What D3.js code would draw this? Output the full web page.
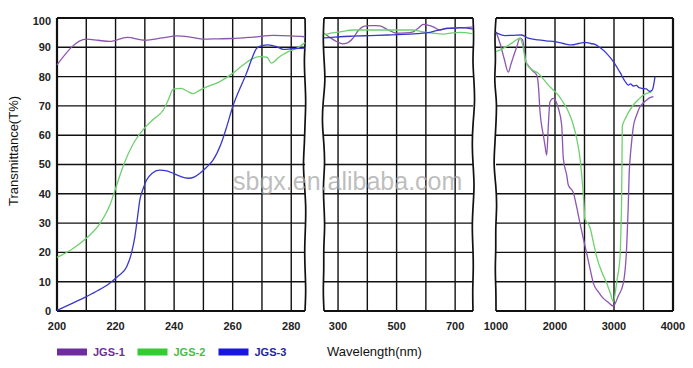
<!DOCTYPE html>
<html><head><meta charset="utf-8">
<script src="https://cdn.jsdelivr.net/npm/d3@7"></script>
<style>body{margin:0;background:#fff}svg{display:block}</style>
</head><body>
<svg id="c" width="693" height="368"></svg>
<script>
// ---------- data ----------
const seriesNames = ["JGS-1", "JGS-2", "JGS-3"];
const yTicks = [0, 10, 20, 30, 40, 50, 60, 70, 80, 90, 100];
const uvGrid = [210, 220, 230, 240, 250, 260, 270, 280];
const uvLabels = [200, 220, 240, 260, 280];
const visGrid = [300, 400, 500, 600, 700];
const visLabels = [300, 500, 700];
const irGrid = [1500, 2000, 2500, 3000, 3500];
const irLabels = [1000, 2000, 3000, 4000];

const jgs1UV = [[200,84],[210,92.8],[214,92.4],[218,92],[224,93.4],[230,92.4],[236,93.2],[241,93.9],[246,93.4],[250,92.8],[255,92.9],[260,93.0],[267,93.5],[274,94.1],[280,93.9],[284.7,93.6]];
const jgs2UV = [[200,18.3],[205,21],[210,24.8],[214.7,29.9],[218,36],[220.4,43],[222.8,50],[226,57],[229.5,62],[233,65.5],[236.3,68.6],[238,72],[239.7,75.7],[242.5,76],[244.5,75],[246.5,74.2],[248.5,75.2],[250,76],[255.6,78.3],[260,81.1],[263,83.5],[266,85.7],[269.3,86.8],[271.7,86.6],[273.2,84.6],[276,86.8],[279,88.5],[282,89.7],[284.7,91.6]];
const jgs3UV = [[200,0.2],[205,2.5],[210,4.9],[214,7],[218,9.5],[221,12],[223.8,15.1],[225.5,20],[226.6,25.4],[227.5,32],[228.3,37.9],[229.5,42],[230.6,44.7],[232.5,47],[235,48.1],[237.5,47.8],[239.7,47],[242,46],[244.8,45.3],[247,45.8],[248.8,47],[251,49],[253.3,51.5],[256,57],[258,63],[260,69.7],[262.5,76],[264.7,81.1],[266.5,86],[268.2,89.7],[270,90.6],[272.1,90.8],[275,90.2],[277.3,89.3],[280,89.5],[284.7,89.7]];

const jgs1VIS = [[252,94.8],[270,93.5],[296,91.9],[315,91.2],[330,91.4],[350,93],[370,95.8],[390,97.2],[409,97.4],[430,97.4],[443,97.3],[470,96],[500,94.8],[530,94.9],[557,95.3],[575,96.6],[591,97.8],[610,97.5],[625,97],[648,95.9],[671,96.5],[716,96.6],[761,97]];
const jgs2VIS = [[252,94.2],[280,94.9],[307,95.3],[352,95.9],[400,95.9],[466,95.9],[520,95.9],[557,95.9],[590,95.3],[625,94.8],[659,94.5],[690,94.9],[716,95.1],[761,94.6]];
const jgs3VIS = [[252,93.2],[270,93.3],[307,93.6],[350,93.8],[409,94],[470,94.2],[523,94.4],[570,94.7],[614,95.1],[640,95.8],[659,96.2],[690,96.5],[716,96.7],[761,96.2]];

const jgs1IR = [[1000,95.3],[1068,91.4],[1140,86],[1209,81.5],[1250,84],[1294,86.8],[1350,90],[1407,93.1],[1450,92.5],[1485,88],[1503,85.1],[1537,84],[1620,82],[1690,80.5],[1718,77.1],[1746,68],[1802,60],[1830,56.5],[1859,53.2],[1887,63.5],[1915,71.4],[1971,72.6],[2056,69.2],[2113,63.5],[2141,52.1],[2198,46.4],[2226,43],[2310,40.5],[2367,35.5],[2424,29.9],[2480,24.7],[2537,19.7],[2593,14.5],[2650,9.5],[2735,6.5],[2819,4.3],[2900,3],[2989,1.7],[3070,5],[3158,9.5],[3215,21.9],[3240,35],[3260,48.1],[3271,51.5],[3300,58],[3328,62.9],[3385,67],[3441,69.7],[3497,71],[3554,72],[3610,72.8],[3667,73.2]];
const jgs2IR = [[1000,88.5],[1090,89.3],[1181,90.3],[1280,91.6],[1407,93.1],[1435,92],[1463,89.7],[1490,86.5],[1520,84.5],[1600,82.5],[1718,81.1],[1800,79.2],[1887,77.1],[1971,75.4],[2056,73.7],[2130,71.5],[2198,69.2],[2260,66.5],[2310,63.5],[2367,58.9],[2424,52.1],[2463,44.1],[2490,37],[2505,31.5],[2540,30.3],[2593,28.5],[2650,23.5],[2706,18.5],[2790,13.5],[2876,9.5],[2940,6],[2989,3.2],[3050,10.5],[3102,18.5],[3118,28],[3128,37],[3134,48],[3140,62.9],[3200,66],[3260,68.3],[3328,70.3],[3420,72.3],[3497,73.7],[3638,74.8]];
const jgs3IR = [[1000,95],[1152,94],[1300,94.1],[1435,94.2],[1547,93.1],[1718,92.5],[1850,92.2],[2000,91.9],[2140,91.3],[2283,90.8],[2400,91.3],[2508,91.7],[2600,91.3],[2678,91],[2763,89.9],[2870,88],[2989,85.1],[3100,81.5],[3200,78],[3243,77.1],[3280,77.5],[3328,76.8],[3380,77],[3420,76.3],[3469,76],[3550,75.8],[3600,75],[3638,75.2],[3660,76],[3695,80]];

// ---------- styles ----------
const lineColors = ["#8c55b0", "#6fd06f", "#3838cc"];
const swatchColors = ["#6e2c9e", "#33cc33", "#1717e0"];
const textColors = ["#6c2f96", "#49bb49", "#2424a8"];
const FONT = "'Liberation Sans', Arial, Helvetica, sans-serif";

const svg = d3.select("#c");
const y = d3.scaleLinear().domain([0, 100]).range([311, 18]);

const panels = [
  { domain: [200, 284.7], range: [57, 305], grid: uvGrid, labels: uvLabels, data: [jgs1UV, jgs2UV, jgs3UV],
    left: null, right: [0,0.5,-1,0,1,0,-0.5,-2,-0.5,1,0.5,-0.5,0,1,0] },
  { domain: [252, 761], range: [324, 473], grid: visGrid, labels: visLabels, data: [jgs1VIS, jgs2VIS, jgs3VIS],
    left: [0,-1,0,1.5,-1,-2,0,1,-1,0,1,-0.5,0,-1,0], right: [0,1,-0.5,1,2,0,-1,0,1.5,0,-1,0,0.5,-0.5,0] },
  { domain: [1000, 4000], range: [496, 673], grid: irGrid, labels: irLabels, data: [jgs1IR, jgs2IR, jgs3IR],
    left: [0,-1.5,0,-2,1,0,-1,-2.5,0,1,-0.5,0,-1,0,0], right: null }
];

const gGrid = svg.append("g");
const gLines = svg.append("g");
const gText = svg.append("g");

function edge(x, offsets) {
  const n = offsets.length - 1;
  const pts = offsets.map((o, i) => [x + o, y(100) + i * (y(0) - y(100)) / n]);
  gGrid.append("path").attr("d", d3.line().curve(d3.curveBasis)(pts))
    .attr("fill", "none").attr("stroke", "#111").attr("stroke-width", 1.7);
}

panels.forEach(p => {
  const x = d3.scaleLinear().domain(p.domain).range(p.range);
  yTicks.forEach(t => {
    gGrid.append("line").attr("x1", p.range[0]).attr("x2", p.range[1])
      .attr("y1", y(t)).attr("y2", y(t))
      .attr("stroke", "#111").attr("stroke-width", (t === 0 || t === 100) ? 2.2 : 1.4);
  });
  p.grid.forEach(v => {
    gGrid.append("line").attr("x1", x(v)).attr("x2", x(v)).attr("y1", y(100)).attr("y2", y(0))
      .attr("stroke", "#111").attr("stroke-width", 1.4);
  });
  if (p.left) edge(p.range[0], p.left);
  else gGrid.append("line").attr("x1", p.range[0]).attr("x2", p.range[0]).attr("y1", y(100)).attr("y2", y(0)).attr("stroke", "#111").attr("stroke-width", 2.2);
  if (p.right) edge(p.range[1], p.right);
  else gGrid.append("line").attr("x1", p.range[1]).attr("x2", p.range[1]).attr("y1", y(100)).attr("y2", y(0)).attr("stroke", "#111").attr("stroke-width", 2.2);
  const line = d3.line().x(d => x(d[0])).y(d => y(d[1])).curve(d3.curveMonotoneX);
  p.data.forEach((s, i) => {
    gLines.append("path").attr("d", line(s)).attr("fill", "none")
      .attr("stroke", lineColors[i]).attr("stroke-width", 1.3);
  });
  p.labels.forEach(v => {
    gText.append("text").attr("x", x(v)).attr("y", 329.5).attr("text-anchor", "middle")
      .attr("font-family", FONT).attr("font-size", 11).attr("font-weight", "bold").attr("fill", "#222")
      .text(v);
  });
});

yTicks.forEach(t => {
  gText.append("text").attr("x", 51).attr("y", y(t)).attr("dy", t === 100 ? "0.6em" : "0.36em")
    .attr("text-anchor", "end").attr("font-family", FONT).attr("font-size", 11)
    .attr("font-weight", "bold").attr("fill", "#222").text(t);
});

gText.append("text").attr("transform", "translate(18,151) rotate(-90)").attr("text-anchor", "middle")
  .attr("font-family", FONT).attr("font-size", 13).attr("fill", "#111").text("Transmittance(T%)");
gText.append("text").attr("x", 327).attr("y", 356).attr("font-family", FONT)
  .attr("font-size", 13).attr("fill", "#111").text("Wavelength(nm)");

const legendX = [57, 137.5, 218.5];
seriesNames.forEach((n, i) => {
  gText.append("rect").attr("x", legendX[i]).attr("y", 348.5).attr("width", 30).attr("height", 7)
    .attr("fill", swatchColors[i]);
  gText.append("text").attr("x", legendX[i] + 36).attr("y", 352).attr("dy", "0.36em")
    .attr("font-family", FONT).attr("font-size", 11).attr("font-weight", "bold")
    .attr("fill", textColors[i]).text(n);
});

gText.append("text").attr("x", 233).attr("y", 189.5).attr("font-family", FONT)
  .attr("font-size", 25).attr("fill", "#a8a8a8").attr("fill-opacity", 0.75).text("sbgx.en.alibaba.com");
</script>
</body></html>
